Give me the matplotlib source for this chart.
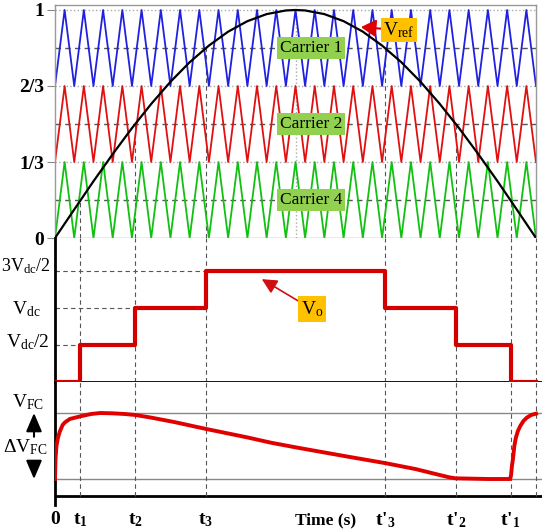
import matplotlib.pyplot as plt
import matplotlib.transforms as mtrans
import numpy as np

plt.rcParams['font.family'] = ['Liberation Serif', 'DejaVu Serif']
plt.rcParams['mathtext.fontset'] = 'custom'
plt.rcParams['mathtext.rm'] = 'Liberation Serif'
plt.rcParams['mathtext.default'] = 'regular'

W, H = 542, 532

# reference signal over one half period
vref_t = [0, .04, .08, .12, .16, .2, .24, .28, .32, .36, .4, .44, .48, .5,
          .52, .56, .6, .64, .68, .72, .76, .8, .84, .88, .92, .96, 1]
vref_v = [0, .125, .249, .368, .482, .588, .685, .771, .844, .905, .951, .982, .998, 1,
          .998, .982, .951, .905, .844, .771, .685, .588, .482, .368, .249, .125, 0]

# carriers (phase disposition)
carrier_periods = 25
carrier_names = ["Carrier 1", "Carrier 2", "Carrier 4"]
carrier_colors = ["#2020e0", "#e01010", "#12c012"]
carrier_base = [2/3, 1/3, 0]

# switching instants and output voltage levels
t_sw = [0.053, 0.167, 0.313, 0.687, 0.833, 0.947]
sw_level = [1/6, 1/2, 5/6, 5/6, 1/2, 1/6]
vo_levels = [0, 1, 2, 3, 2, 1, 0]
sw_labels = ["t$_1$", "t$_2$", "t$_3$", "t'$_3$", "t'$_2$", "t'$_1$"]

# flying capacitor voltage (0 = lower bound, 1 = V_FC)
vc_t = [0, 0.001, 0.003, 0.006, 0.01, 0.016, 0.021, 0.031, 0.053, 0.075, 0.094,
        0.12, 0.145, 0.167, 0.2, 0.25, 0.313, 0.4, 0.449, 0.5, 0.6, 0.687,
        0.75, 0.8, 0.82, 0.833, 0.9, 0.946, 0.948, 0.950, 0.952, 0.955, 0.958,
        0.962, 0.967, 0.974, 0.981, 0.99, 1.0]
vc_v = [0, 0.3, 0.5, 0.62, 0.72, 0.82, 0.86, 0.91, 0.95, 0.985, 1.0,
        0.995, 0.985, 0.97, 0.93, 0.86, 0.76, 0.63, 0.55, 0.48, 0.35, 0.24,
        0.15, 0.06, 0.025, 0.01, 0.0, 0.0, 0.05, 0.2, 0.3, 0.5, 0.62,
        0.72, 0.8, 0.88, 0.93, 0.97, 0.99]

fig = plt.figure(figsize=(W / 100, H / 100), dpi=100)


def px_axes(left, top, right, bottom):
    return fig.add_axes([left / W, 1 - bottom / H, (right - left) / W, (bottom - top) / H])


dash = (0, (4, 3))
gray_dash = '#555555'

# ---------------- top: carriers + reference ----------------
ax1 = px_axes(55, 5, 536, 238)
ax1.set_xlim(0, 1)
ax1.set_ylim(0, 233 / 228)
for y in [1/3, 2/3, 1]:
    ax1.axhline(y, color='#aaaaaa', ls=':', lw=1, zorder=1)
for y in [1/6, 1/2, 5/6]:
    ax1.axhline(y, color=gray_dash, ls=dash, lw=1, zorder=1)
ax1.vlines(t_sw, 0, sw_level, colors=gray_dash, linestyles=dash, lw=0.8, zorder=1)
ax1.axvline(0.5, color='#aaaaaa', ls=':', lw=1, zorder=1)

tc = np.linspace(0, 1, 2 * carrier_periods + 1)
tri = np.arange(len(tc)) % 2
for base, col in zip(carrier_base, carrier_colors):
    ax1.plot(tc, base + tri / 3, color=col, lw=1.3, zorder=2)
ax1.plot(vref_t, vref_v, color='black', lw=1.6, zorder=3)

for name, base in zip(carrier_names, carrier_base):
    ax1.text(0.532, base + 1/6, name, ha='center', va='center', fontsize=12.5, zorder=5,
             bbox=dict(boxstyle='square,pad=0.15', fc='#92d050', ec='none'))

ax1.annotate("V$_{ref}$", xy=(0.636, 0.925), xytext=(0.715, 0.912),
             ha='center', va='center', fontsize=14, zorder=6,
             bbox=dict(boxstyle='square,pad=0.1', fc='#ffc000', ec='none'),
             arrowprops=dict(arrowstyle='-|>,head_length=0.6,head_width=0.35',
                             color='#e00000', lw=1.5, mutation_scale=15,
                             shrinkA=0, shrinkB=0))

ax1.set_yticks([0, 1/3, 2/3, 1])
ax1.set_yticklabels(["0", "1/3", "2/3", "1"], fontsize=14, fontweight='bold')
ax1.set_xticks([0.5])
ax1.set_xticklabels([])
ax1.tick_params(axis='y', length=6, color='#888888', pad=2)
ax1.tick_params(axis='x', length=4, color='#888888')
for s in ax1.spines.values():
    s.set_color('#999999')
    s.set_linewidth(1)

# ---------------- middle: output voltage ----------------
ax2 = px_axes(55, 238, 542, 382)
ax2.set_xlim(0, 487 / 481)
ax2.set_ylim(0, 144 / 37)
sw_all = [0] + t_sw + [1]
ax2.step(sw_all, vo_levels + [vo_levels[-1]], where='post', color='#d40000', lw=3, zorder=4)
ax2.hlines([1, 2, 3], 0, t_sw[:3], colors=gray_dash, linestyles=dash, lw=0.8)
for t in t_sw + [1]:
    ax2.axvline(t, color=gray_dash, ls=dash, lw=0.8, zorder=1)
ax2.annotate("V$_o$", xy=(0.43, 2.78), xytext=(0.534, 1.97),
             ha='center', va='center', fontsize=14, zorder=6,
             bbox=dict(boxstyle='square,pad=0.15', fc='#ffc000', ec='none'),
             arrowprops=dict(arrowstyle='-|>,head_length=0.6,head_width=0.3',
                             color='#d01010', lw=1.2, mutation_scale=15,
                             shrinkA=0, shrinkB=0))
for side in ['top', 'right']:
    ax2.spines[side].set_visible(False)
for side in ['left', 'bottom']:
    ax2.spines[side].set_color('black')
    ax2.spines[side].set_linewidth(2)
ax2.set_xticks([])
ax2.set_yticks([1, 2, 3])
ax2.set_yticklabels([])
ax2.tick_params(axis='y', direction='in', length=3, color='#888888')

lab_r = mtrans.blended_transform_factory(fig.transFigure, ax2.transData)
ax2.text(50 / W, 3, "3V$_{dc}$/2", transform=lab_r, ha='right', va='baseline', fontsize=13)
ax2.text(12 / W, 1.84, "V$_{dc}$", transform=lab_r, ha='left', va='baseline', fontsize=14)
ax2.text(50 / W, 0.95, "V$_{dc}$/2", transform=lab_r, ha='right', va='baseline', fontsize=14)

# ---------------- bottom: flying capacitor voltage ----------------
ax3 = px_axes(55, 382, 542, 505)
ax3.set_xlim(0, 487 / 481)
ax3.set_ylim(-26 / 66, 97 / 66)
base_y = -17 / 66
ax3.axhline(base_y, color='black', lw=2)
ax3.axhline(0, color='#888888', lw=1)
ax3.axhline(1, color='#888888', lw=1)
ax3.vlines(t_sw + [1], base_y, 97 / 66, colors=gray_dash, linestyles=dash, lw=0.8)
ax3.plot(vc_t, vc_v, color='#e00000', lw=2.8, zorder=4)
for side in ['top', 'right', 'bottom']:
    ax3.spines[side].set_visible(False)
ax3.spines['left'].set_color('black')
ax3.spines['left'].set_linewidth(2)
ax3.set_xticks([])
ax3.set_yticks([])

lab3 = mtrans.blended_transform_factory(fig.transFigure, ax3.transData)
ax3.text(12 / W, 1.09, "V$_{FC}$", transform=lab3, ha='left', va='baseline', fontsize=14)
ax3.text(48 / W, 0.41, "ΔV$_{FC}$", transform=lab3, ha='right', va='baseline', fontsize=14)
head = dict(arrowstyle='-|>,head_length=0.75,head_width=0.32', color='black',
            lw=1.5, mutation_scale=15, shrinkA=0, shrinkB=0)
ax3.annotate("", xy=(34 / W, 1.0), xytext=(34 / W, 0.64), xycoords=lab3, textcoords=lab3,
             arrowprops=head)
ax3.annotate("", xy=(34 / W, 0.0), xytext=(34 / W, 0.26), xycoords=lab3, textcoords=lab3,
             arrowprops=head)

label_y = -41 / 66
ax3.text(0, label_y, "0", ha='center', va='center', fontsize=14, fontweight='bold')
for tt, lab in zip(t_sw, sw_labels):
    ax3.text(tt, label_y, lab, ha='center', va='center', fontsize=14, fontweight='bold')
ax3.text(0.563, label_y, "Time (s)", ha='center', va='center', fontsize=12.5, fontweight='bold')

fig.savefig("out.png", dpi=100)
